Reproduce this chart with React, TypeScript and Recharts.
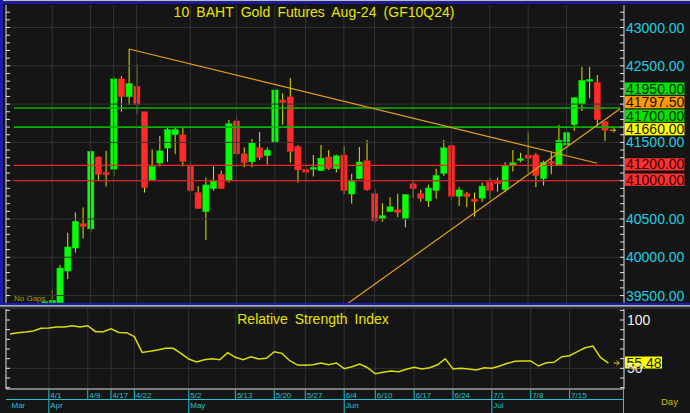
import React from "react";
import {
  ComposedChart,
  Bar,
  Line,
  XAxis,
  YAxis,
  ReferenceLine,
  ReferenceDot,
} from "recharts";

// Handelstage (Thai-Börse, Feiertage fehlen), plus 2 leere Slots rechts
const DATES = [
  "3/25", "3/26", "3/27", "3/28", "3/29",
  "4/1", "4/2", "4/3", "4/4", "4/5", "4/9", "4/10", "4/11", "4/17", "4/18", "4/19",
  "4/22", "4/23", "4/24", "4/25", "4/26", "4/29", "4/30",
  "5/2", "5/3", "5/7", "5/8", "5/9", "5/10", "5/13", "5/14", "5/15", "5/16", "5/17",
  "5/20", "5/21", "5/23", "5/24", "5/27", "5/28", "5/29", "5/30", "5/31",
  "6/4", "6/5", "6/6", "6/7", "6/10", "6/11", "6/12", "6/13", "6/14", "6/17", "6/18",
  "6/19", "6/20", "6/21", "6/24", "6/25", "6/26", "6/27", "6/28",
  "7/1", "7/2", "7/3", "7/4", "7/5", "7/8", "7/9", "7/10", "7/11", "7/12", "7/15",
  "7/16", "7/17", "7/18", "7/19", "7/22", "7/23", "7/24",
];

const OPEN = [
  null, null, null, null, 39300,
  39300, 39380, 39820, 40120, 40440, 40370, 41310, 41110, 41150, 42330, 42095,
  42235, 41900, 41010, 41230, 41425, 41600, 41600,
  41200, 40845, 40595, 40895, 41085, 41005, 41780, 41350, 41245, 41430, 41325,
  41500, 42055, 42095, 41445, 41150, 41150, 41130, 41310, 41155,
  41335, 40825, 41025, 41260, 40830, 40500, 40595, 40620, 40500, 40960, 40830,
  40735, 40870, 41095, 41460, 40795, 40830, 40760, 40770,
  40985, 40990, 40880, 41205, 41275, 41335, 41335, 41025, 41250, 41205, 41465,
  41730, 42000, 42305, 42285, 41770, null, null,
];
const HIGH = [
  null, null, null, null, 39425,
  39575, 39900, 40320, 40585, 40650, 41400, 41315, 41390, 42360, 42365, 42720,
  42525, 41900, 41410, 41585, 41700, 41700, 41685,
  41260, 40930, 41040, 41185, 41130, 41795, 41835, 41435, 41545, 41635, 41435,
  42190, 42140, 42340, 41465, 41220, 41335, 41465, 41400, 41340,
  41455, 41090, 41440, 41530, 40890, 40705, 40785, 40830, 40825, 41000, 40880,
  40945, 41155, 41530, 41485, 40915, 40855, 40845, 40975,
  41040, 41040, 41240, 41400, 41365, 41630, 41360, 41260, 41380, 41730, 41650,
  42090, 42485, 42485, 42380, 41775, null, null,
];
const LOW = [
  null, null, null, null, 39250,
  39250, 39350, 39715, 40060, 40245, 40335, 41010, 40925, 41060, 41900, 41990,
  41870, 40845, 41005, 41185, 41245, 41350, 41185,
  40845, 40630, 40225, 40870, 40890, 40975, 41315, 41175, 41175, 41270, 41210,
  41495, 41730, 41235, 40975, 40990, 41055, 41130, 41140, 41105,
  40825, 40700, 41020, 40870, 40445, 40465, 40590, 40525, 40390, 40770, 40725,
  40660, 40765, 41060, 40740, 40670, 40655, 40530, 40725,
  40760, 40855, 40850, 41120, 41240, 41100, 40915, 40935, 41085, 41205, 41345,
  41650, 41910, 42075, 41720, 41520, null, null,
];
const CLOSE = [
  null, null, null, null, 39420,
  39440, 39860, 40135, 40470, 40400, 41385, 41080, 41080, 42330, 42095, 42270,
  41990, 40910, 41185, 41390, 41670, 41670, 41250,
  40870, 40635, 40945, 41000, 40895, 41745, 41350, 41235, 41495, 41300, 41400,
  42185, 42020, 41380, 41140, 41110, 41175, 41295, 41155, 41325,
  40870, 41000, 41245, 40880, 40475, 40545, 40660, 40585, 40820, 40895, 40770,
  40905, 41070, 41430, 40795, 40880, 40790, 40725, 40930,
  40870, 40960, 41195, 41235, 41290, 41290, 41065, 41240, 41225, 41530, 41630,
  42085, 42310, 42325, 41795, 41660, null, null,
];
const RSI = [
  85.5, 86.9, 87.6, 88.6, 91.4,
  91.7, 92.8, 92.8, 94.1, 92.8, 94.1, 87.9, 87.9, 91.0, 87.2, 86.9,
  82.8, 66.5, 67.6, 68.9, 70.7, 70.7, 65.5,
  59.6, 56.5, 58.9, 59.9, 58.9, 66.2, 61.4, 58.9, 62.0, 59.6, 60.3,
  67.2, 65.5, 57.9, 53.4, 53.1, 53.7, 55.5, 53.7, 55.5,
  49.6, 51.7, 54.5, 50.6, 44.4, 45.9, 47.2, 46.5, 49.0, 51.0, 49.3,
  50.6, 53.7, 59.9, 49.3, 50.0, 49.3, 48.2, 50.6,
  50.0, 52.4, 55.2, 57.2, 57.6, 57.6, 52.4, 55.8, 56.2, 62.0, 63.0,
  67.2, 71.3, 73.1, 61.0, 55.48, null, null,
];

const WEEK_TICKS = [
  "4/1", "4/9", "4/17", "4/22", "5/2", "5/13", "5/20", "5/27",
  "6/4", "6/10", "6/17", "6/24", "7/1", "7/8", "7/15",
];
const MONTH_DATES = ["3/25", "4/1", "5/2", "6/4", "7/1"];
const MONTH_LABELS = ["Mar", "Apr", "May", "Jun", "Jul"];

const PRICE_LABELS = [43000, 42500, 41500, 40500, 40000, 39500];
const PRICE_GRID = [39500, 40000, 40500, 41000, 41500, 42000, 42500, 43000];
const GREEN_LEVELS = [41950, 41700];
const RED_LEVELS = [41200, 41000];
const PRICE_TAGS = [41950, 41797.5, 41700, 41660, 41200, 41000];
const TAG_KINDS = ["green", "orange", "green", "last", "red", "red"];
const LAST_PRICE = 41660;
const TREND_DOWN = [
  { date: "4/19", price: 42720 },
  { date: "7/19", price: 41228 },
];
const TREND_UP = [
  { date: "6/4", price: 39361 },
  { date: "7/24", price: 41939 },
];
const RSI_LABELS = [100, 50];
const RSI_GRID = [50];
const RSI_LAST = 55.48;

// ---- Layout ----
const PRICE_DOMAIN: [number, number] = [39403, 43294];
const RSI_DOMAIN: [number, number] = [28.6, 111.4];
const MAIN_PLOT_H = 298;
const PX_PER_UNIT = MAIN_PLOT_H / (PRICE_DOMAIN[1] - PRICE_DOMAIN[0]);
const FONT = '"Liberation Sans", Arial, sans-serif';

const BG = "#151515";
const GRID = "#333333";
const AXIS = "#e2e2e2";
const CYAN = "#1fcfe0";
const DATE_CYAN = "#25c2d2";
const TITLE = "#e6e400";
const WICK = "#e2e200";
const UP = "#06ff06";
const DOWN = "#ff2b2b";
const TREND = "#e8a012";
const GREEN_LINE = "#00b400";
const RED_LINE = "#ff2424";
const TAG_STYLE: Record<string, { bg: string; fg: string }> = {
  green: { bg: "#00e400", fg: "#002000" },
  orange: { bg: "#ff9a00", fg: "#201000" },
  last: { bg: "#ffff00", fg: "#202000" },
  red: { bg: "#ff3030", fg: "#300000" },
};

const PRICE_TICKS: number[] = [];
for (let v = 39500; v <= 43200; v += 100) PRICE_TICKS.push(v);
const RSI_TICKS = [30, 40, 50, 60, 70, 80, 90, 100, 110];

const data = DATES.map((date, i) => ({
  date,
  open: OPEN[i],
  high: HIGH[i],
  low: LOW[i],
  close: CLOSE[i],
  range: OPEN[i] == null ? null : [LOW[i], HIGH[i]],
  rsi: RSI[i],
}));

// Kollisionsvermeidung der Preis-Tags rechts (in Pixel relativ zur Linie)
const TAG_GAP = 13.5;
const tagOffsets = (() => {
  const order = PRICE_TAGS.map((v, i) => i).sort((a, b) => PRICE_TAGS[a] - PRICE_TAGS[b]);
  const out: number[] = new Array(PRICE_TAGS.length).fill(0);
  let prev: number | null = null;
  for (const i of order) {
    const natural = -PRICE_TAGS[i] * PX_PER_UNIT;
    const placed = prev == null ? natural : Math.min(natural, prev - TAG_GAP);
    out[i] = placed - natural;
    prev = placed;
  }
  return out;
})();

function renderCandle(props: any) {
  const { x, y, width, payload } = props;
  if (!payload || payload.open == null || !Number.isFinite(y)) return <g />;
  const { open, close, high, low } = payload;
  const yOf = (v: number) => y + (high - v) * PX_PER_UNIT;
  const cx = x + width / 2;
  const up = close >= open;
  const top = yOf(Math.max(open, close));
  const bot = yOf(Math.min(open, close));
  const h = Math.max(bot - top, 2);
  return (
    <g>
      <line x1={cx} x2={cx} y1={y} y2={yOf(low)} stroke={WICK} strokeWidth={1} />
      <rect
        x={x - 0.2}
        y={top}
        width={width + 0.4}
        height={h}
        fill={up ? UP : DOWN}
        stroke={up ? "#00d000" : "#e02020"}
        strokeWidth={0.4}
      />
    </g>
  );
}

const LeftTick = (props: any) => (
  <line x1={props.x} x2={props.x + 4} y1={props.y} y2={props.y} stroke={AXIS} />
);

const PriceTick = (props: any) => {
  const { x, y, payload } = props;
  return (
    <g>
      <line x1={x - 4} x2={x} y1={y} y2={y} stroke={AXIS} />
      {PRICE_LABELS.includes(payload.value) && (
        <text x={x + 2} y={y} dy="0.36em" fill={CYAN} fontSize={14} fontFamily={FONT}>
          {payload.value.toFixed(2)}
        </text>
      )}
    </g>
  );
};

const RsiTick = (props: any) => {
  const { x, y, payload } = props;
  return (
    <g>
      <line x1={x - 4} x2={x} y1={y} y2={y} stroke={AXIS} />
      {RSI_LABELS.includes(payload.value) && (
        <text x={x + 3} y={y} dy="0.36em" fill="#f0f0f0" fontSize={14} fontFamily={FONT}>
          {payload.value}
        </text>
      )}
    </g>
  );
};

const DateTick = (props: any) => {
  const { x, y, payload } = props;
  const v = payload.value;
  const m = MONTH_DATES.indexOf(v);
  const week = WEEK_TICKS.includes(v);
  return (
    <g fontFamily={FONT}>
      {week && <line x1={x} x2={x} y1={y + 1} y2={y + 10.5} stroke={DATE_CYAN} />}
      {week && (
        <text x={x + 1.5} y={y + 9} fontSize={8} fill={DATE_CYAN}>
          {v}
        </text>
      )}
      {m > 0 && <line x1={x} x2={x} y1={y + 10} y2={y + 24} stroke={DATE_CYAN} />}
      {m >= 0 && (
        <text x={x + 1.5} y={y + 19} fontSize={8} fill={DATE_CYAN}>
          {MONTH_LABELS[m]}
        </text>
      )}
    </g>
  );
};

const Arrow = (props: any) => {
  const { cx, cy } = props;
  if (!Number.isFinite(cx)) return <g />;
  return (
    <path
      d={`M${cx - 2.5},${cy} L${cx + 3},${cy} M${cx + 0.5},${cy - 2.5} L${cx + 3},${cy} L${cx + 0.5},${cy + 2.5}`}
      stroke="#e8d000"
      strokeWidth={1}
      fill="none"
    />
  );
};

function tagLabel(i: number) {
  return (p: any) => {
    const vb = p.viewBox || {};
    const cy = vb.y + (vb.height || 0) / 2 + tagOffsets[i] - 1;
    const st = TAG_STYLE[TAG_KINDS[i]];
    const x0 = vb.x + vb.width + 0.5;
    return (
      <g>
        <rect x={x0} y={cy - 6.3} width={60} height={12.6} fill={st.bg} stroke="rgba(0,0,0,0.35)" strokeWidth={0.6} />
        <text x={x0 + 1.5} y={cy} dy="0.36em" fontSize={14} fill={st.fg} fontFamily={FONT}>
          {PRICE_TAGS[i].toFixed(2)}
        </text>
      </g>
    );
  };
}

const rsiTag = (p: any) => {
  const vb = p.viewBox || {};
  const cy = vb.y + (vb.height || 0) / 2 - 0.5;
  const x0 = vb.x + vb.width + 1;
  return (
    <g>
      <rect x={x0} y={cy - 6} width={37} height={12} fill="#ffff00" />
      <text x={x0 + 1.5} y={cy} dy="0.36em" fontSize={14} fill="#202000" fontFamily={FONT}>
        {RSI_LAST.toFixed(2)}
      </text>
    </g>
  );
};

const FIRST = DATES[0];
const LAST_SLOT = DATES[DATES.length - 1];
const ARROW_SLOT = DATES[DATES.length - 2];

export default function App() {
  return (
    <div style={{ position: "fixed", left: 0, top: 0, width: 690, height: 413, background: BG, overflow: "hidden" }}>
      <style>{"body{margin:0}"}</style>
      <div style={{ position: "absolute", left: 0, top: 0 }}>
        <ComposedChart width={690} height={305} data={data} margin={{ top: 5, right: 0, bottom: 2, left: 0 }}>
          <XAxis dataKey="date" hide padding={{ left: 4, right: 0 }} />
          <YAxis
            yAxisId="L"
            orientation="left"
            width={6}
            domain={PRICE_DOMAIN}
            allowDataOverflow
            ticks={PRICE_TICKS}
            interval={0}
            tickSize={0}
            tickMargin={0}
            tickLine={false}
            axisLine={{ stroke: AXIS }}
            tick={LeftTick}
          />
          <YAxis
            yAxisId="R"
            orientation="right"
            width={66}
            domain={PRICE_DOMAIN}
            allowDataOverflow
            ticks={PRICE_TICKS}
            interval={0}
            tickSize={0}
            tickMargin={0}
            tickLine={false}
            axisLine={{ stroke: AXIS }}
            tick={PriceTick}
          />
          {PRICE_GRID.map((v) => (
            <ReferenceLine key={`g${v}`} yAxisId="L" y={v} stroke={GRID} />
          ))}
          {WEEK_TICKS.map((d) => (
            <ReferenceLine key={`v${d}`} yAxisId="L" x={d} stroke={GRID} />
          ))}
          <Bar yAxisId="L" dataKey="range" barSize={6} shape={renderCandle} isAnimationActive={false} />
          {GREEN_LEVELS.map((v) => (
            <ReferenceLine
              key={`gl${v}`}
              yAxisId="L"
              segment={[{ x: FIRST, y: v }, { x: LAST_SLOT, y: v }]}
              stroke={GREEN_LINE}
              strokeWidth={1.6}
            />
          ))}
          {RED_LEVELS.map((v) => (
            <ReferenceLine
              key={`rl${v}`}
              yAxisId="L"
              segment={[{ x: FIRST, y: v }, { x: LAST_SLOT, y: v }]}
              stroke={RED_LINE}
              strokeWidth={1.1}
            />
          ))}
          <ReferenceLine
            yAxisId="L"
            segment={TREND_DOWN.map((p) => ({ x: p.date, y: p.price }))}
            stroke={TREND}
            strokeWidth={1.2}
            ifOverflow="hidden"
          />
          <ReferenceLine
            yAxisId="L"
            segment={TREND_UP.map((p) => ({ x: p.date, y: p.price }))}
            stroke={TREND}
            strokeWidth={1.2}
            ifOverflow="hidden"
          />
          <ReferenceDot yAxisId="L" x={ARROW_SLOT} y={LAST_PRICE} shape={Arrow} />
          {PRICE_TAGS.map((v, i) => (
            <ReferenceLine key={`t${i}`} yAxisId="L" y={v} stroke="none" strokeOpacity={0} label={tagLabel(i)} />
          ))}
        </ComposedChart>
      </div>

      <div style={{ position: "absolute", left: 0, top: 305, background: BG }}>
        <ComposedChart width={690} height={108} data={data} margin={{ top: 4, right: 0, bottom: 0, left: 0 }}>
          <XAxis
            dataKey="date"
            padding={{ left: 4, right: 0 }}
            height={24}
            ticks={[FIRST, ...WEEK_TICKS]}
            interval={0}
            tickSize={0}
            tickMargin={0}
            tickLine={false}
            axisLine={{ stroke: AXIS }}
            tick={DateTick}
          />
          <YAxis
            yAxisId="L"
            orientation="left"
            width={6}
            domain={RSI_DOMAIN}
            allowDataOverflow
            ticks={RSI_TICKS}
            interval={0}
            tickSize={0}
            tickMargin={0}
            tickLine={false}
            axisLine={{ stroke: AXIS }}
            tick={LeftTick}
          />
          <YAxis
            yAxisId="R"
            orientation="right"
            width={66}
            domain={RSI_DOMAIN}
            allowDataOverflow
            ticks={RSI_TICKS}
            interval={0}
            tickSize={0}
            tickMargin={0}
            tickLine={false}
            axisLine={{ stroke: AXIS }}
            tick={RsiTick}
          />
          {RSI_GRID.map((v) => (
            <ReferenceLine key={`rg${v}`} yAxisId="L" y={v} stroke={GRID} />
          ))}
          {WEEK_TICKS.map((d) => (
            <ReferenceLine key={`rv${d}`} yAxisId="L" x={d} stroke={GRID} />
          ))}
          <Line
            yAxisId="L"
            type="linear"
            dataKey="rsi"
            stroke="#dcdc00"
            strokeWidth={1.5}
            dot={false}
            isAnimationActive={false}
            connectNulls={false}
          />
          <ReferenceDot yAxisId="L" x={ARROW_SLOT} y={RSI_LAST} shape={Arrow} />
          <ReferenceLine yAxisId="L" y={RSI_LAST} stroke="none" strokeOpacity={0} label={rsiTag} />
        </ComposedChart>
      </div>

      <svg width={690} height={413} style={{ position: "absolute", left: 0, top: 0, pointerEvents: "none" }}>
        <rect x={0} y={0} width={690} height={1.2} fill="#bdbdbd" />
        <rect x={0} y={1.2} width={690} height={2.6} fill="#1c1ca8" />
        <rect x={0} y={0} width={3} height={305} fill="#1c1ca8" />
        <rect x={0} y={302.8} width={690} height={2.4} fill="#1c1ca8" />
        <rect x={0} y={305.2} width={690} height={1.5} fill="#d4d4d4" />
        <rect x={0} y={306.7} width={690} height={2.3} fill="#2c2c2c" />
        <line x1={6} x2={624} y1={399.5} y2={399.5} stroke={DATE_CYAN} />
        <line x1={623.5} x2={623.5} y1={389} y2={413} stroke={DATE_CYAN} />
        <text x={314} y={16.5} textAnchor="middle" fontSize={14} fill={TITLE} fontFamily={FONT} wordSpacing={3.3}>
          10 BAHT Gold Futures Aug-24 (GF10Q24)
        </text>
        <text x={313} y={323.5} textAnchor="middle" fontSize={14} fill={TITLE} fontFamily={FONT} wordSpacing={3}>
          Relative Strength Index
        </text>
        <text x={14} y={301} fontSize={8} fill="#a4a000" fontFamily={FONT}>
          No Gaps
        </text>
        <text x={661} y={405} fontSize={9.5} fill="#ccb800" fontFamily={FONT}>
          Day
        </text>
      </svg>
    </div>
  );
}
